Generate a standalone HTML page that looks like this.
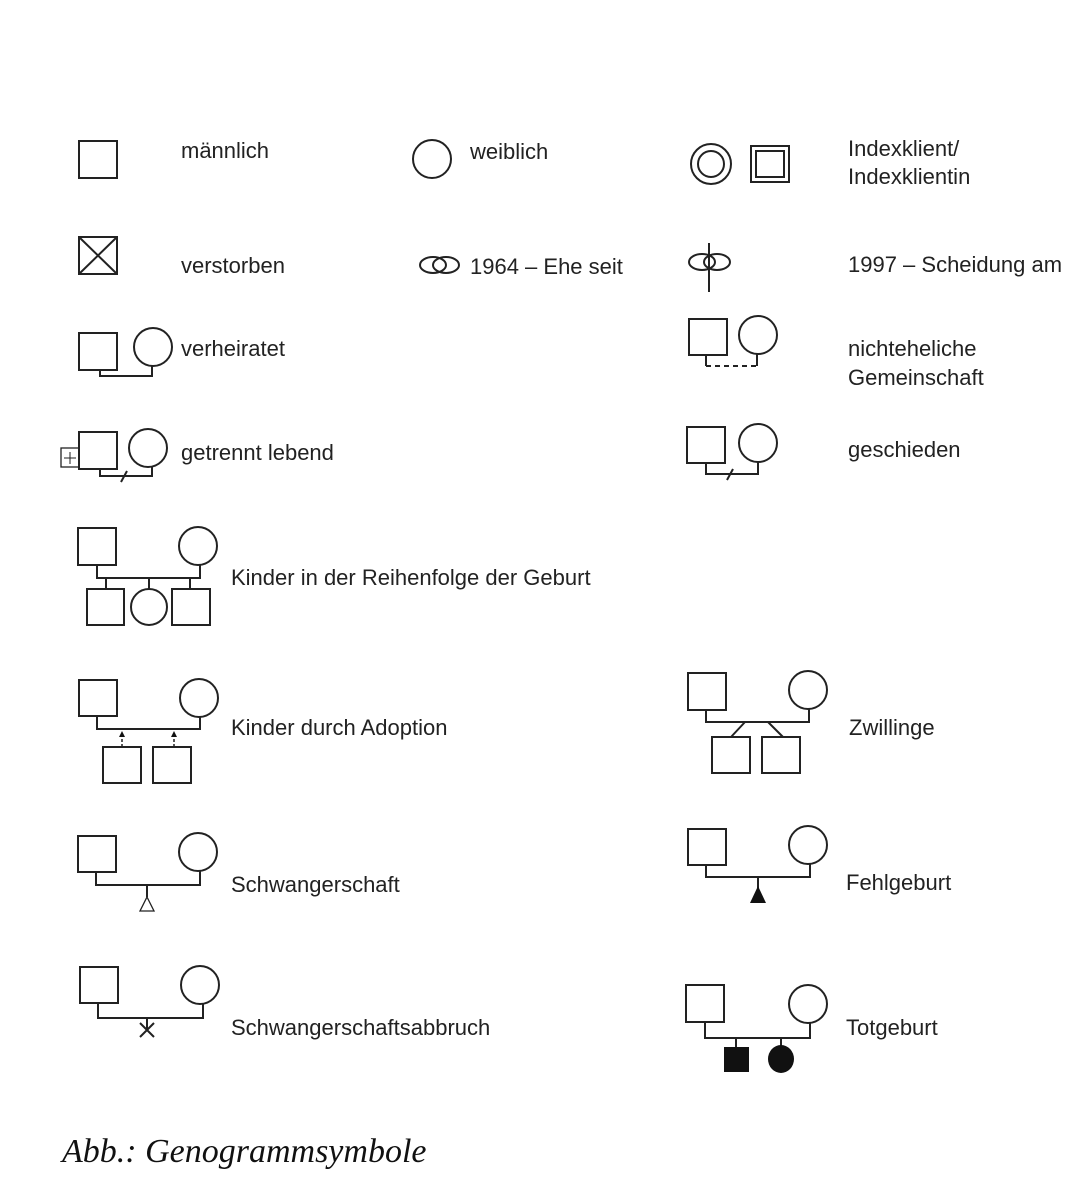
<!DOCTYPE html>
<html><head><meta charset="utf-8"><style>
html,body{margin:0;padding:0;background:#fff;}
svg{display:block}
text{font-family:"Liberation Sans",sans-serif;font-size:22px;fill:#222}
</style></head><body>
<svg width="1074" height="1200" viewBox="0 0 1074 1200" xmlns="http://www.w3.org/2000/svg">
<g fill="none" stroke="#222" stroke-width="2">
<rect x="79" y="141" width="38" height="37"/>
<circle cx="432" cy="159" r="19"/>
<circle cx="711" cy="164" r="20"/><circle cx="711" cy="164" r="13"/>
<rect x="751" y="146" width="38" height="36"/><rect x="756" y="151" width="28" height="26"/>
<rect x="79" y="237" width="38" height="37"/>
<path d="M79 237L117 274M117 237L79 274"/>
<ellipse cx="433" cy="265" rx="13" ry="8"/><ellipse cx="446" cy="265" rx="13" ry="8"/>
<ellipse cx="702" cy="262" rx="13" ry="8"/><ellipse cx="717" cy="262" rx="13" ry="8"/>
<path d="M709 243V292"/>
<rect x="79" y="333" width="38" height="37"/><circle cx="153" cy="347" r="19"/>
<path d="M100 370V376H152V366"/>
<rect x="689" y="319" width="38" height="36"/><circle cx="758" cy="335" r="19"/>
<path d="M706 355V366M757 354V366"/><path d="M706 366H757" stroke-dasharray="5 4"/>
<rect x="61" y="448" width="18" height="19" stroke-width="1.3"/>
<path d="M70 452V464M64 458H76" stroke-width="1"/>
<rect x="79" y="432" width="38" height="37"/><circle cx="148" cy="448" r="19"/>
<path d="M100 469V476H152V467M121 482L127 471"/>
<rect x="687" y="427" width="38" height="36"/><circle cx="758" cy="443" r="19"/>
<path d="M706 463V474H758V462M727 480L733 469"/>
<rect x="78" y="528" width="38" height="37"/><circle cx="198" cy="546" r="19"/>
<path d="M97 565V578H200V565M106 578V589M149 578V589M190 578V589"/>
<rect x="87" y="589" width="37" height="36"/><circle cx="149" cy="607" r="18"/><rect x="172" y="589" width="38" height="36"/>
<rect x="79" y="680" width="38" height="36"/><circle cx="199" cy="698" r="19"/>
<path d="M97 716V729H200V717"/>
<path d="M122 747V734M174 747V734" stroke-dasharray="3 2" stroke-width="1.5"/>
<rect x="103" y="747" width="38" height="36"/><rect x="153" y="747" width="38" height="36"/>
<rect x="688" y="673" width="38" height="37"/><circle cx="808" cy="690" r="19"/>
<path d="M706 710V722H809V709M745 722L731 737M768 722L783 737"/>
<rect x="712" y="737" width="38" height="36"/><rect x="762" y="737" width="38" height="36"/>
<rect x="78" y="836" width="38" height="36"/><circle cx="198" cy="852" r="19"/>
<path d="M96 872V885H200V871M147 885V897"/>
<path d="M147 897L154 911H140Z" stroke-width="1.3"/>
<rect x="688" y="829" width="38" height="36"/><circle cx="808" cy="845" r="19"/>
<path d="M706 865V877H810V864M758 877V889"/>
<rect x="80" y="967" width="38" height="36"/><circle cx="200" cy="985" r="19"/>
<path d="M98 1003V1018H203V1004M147 1018V1029M140 1037L154 1023M140 1023L154 1037" />
<rect x="686" y="985" width="38" height="37"/><circle cx="808" cy="1004" r="19"/>
<path d="M705 1022V1038H810V1023M736 1038V1047M781 1038V1047"/>
</g>
<g fill="#111">
<path d="M758 886L766 903H750Z"/>
<rect x="724" y="1047" width="25" height="25"/>
<ellipse cx="781" cy="1059" rx="13" ry="14"/>
<path d="M122 731L119 737H125Z M174 731L171 737H177Z"/>
</g>
<text x="181" y="158">männlich</text>
<text x="470" y="159">weiblich</text>
<text x="848" y="156">Indexklient/</text>
<text x="848" y="184">Indexklientin</text>
<text x="181" y="273">verstorben</text>
<text x="470" y="274">1964 – Ehe seit</text>
<text x="848" y="272">1997 – Scheidung am</text>
<text x="181" y="356">verheiratet</text>
<text x="848" y="356">nichteheliche</text>
<text x="848" y="385">Gemeinschaft</text>
<text x="181" y="460">getrennt lebend</text>
<text x="848" y="457">geschieden</text>
<text x="231" y="585">Kinder in der Reihenfolge der Geburt</text>
<text x="231" y="735">Kinder durch Adoption</text>
<text x="849" y="735">Zwillinge</text>
<text x="231" y="892">Schwangerschaft</text>
<text x="846" y="890">Fehlgeburt</text>
<text x="231" y="1035">Schwangerschaftsabbruch</text>
<text x="846" y="1035">Totgeburt</text>
<text x="62" y="1162" style="font-family:'Liberation Serif',serif;font-style:italic;font-size:34px;fill:#111">Abb.: Genogrammsymbole</text>
</svg>
</body></html>
